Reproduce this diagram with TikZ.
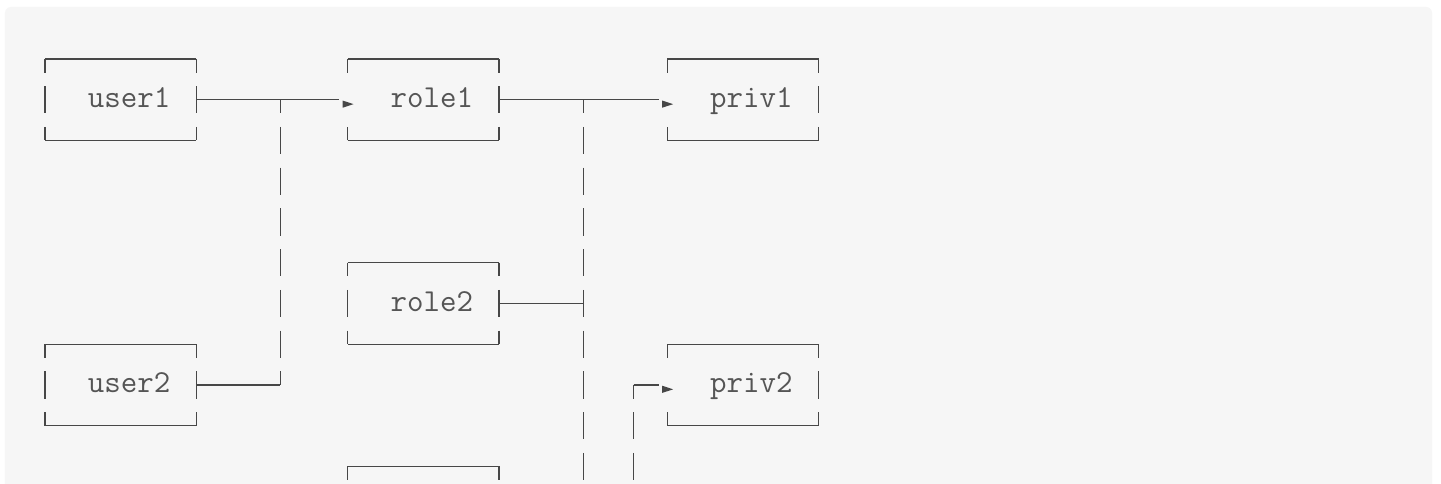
\documentclass[tikz,border=0pt]{standalone}
\usetikzlibrary{calc}
\definecolor{panel}{HTML}{F6F6F6}
\definecolor{ink}{HTML}{474747}
\definecolor{letter}{HTML}{555555}
\tikzset{
  wire/.style={draw=ink, line width=1.35pt},
  vwire/.style={wire, dash pattern=on 27.2pt off 13.54pt, dash phase=13.6pt},
  cellbox/.style={minimum width=151.38pt, minimum height=81.48pt, inner sep=0pt, outer sep=0pt},
  lbl/.style={anchor=base, inner sep=0pt, outer sep=0pt, text=letter, font=\fontsize{32pt}{38pt}\selectfont\ttfamily},
}
% box outline: solid top and bottom, broken right side
\newcommand{\drawcellframe}[1]{%
  \draw[wire] (#1.north west) -- (#1.north east);
  \draw[wire] (#1.south west) -- (#1.south east);
  \draw[vwire] (#1.north east) -- (#1.south east);}
% left side with a full middle bar
\newcommand{\drawcellleft}[1]{\draw[vwire] (#1.north west) -- (#1.south west);}
% left side with corner stubs only (an arrow sits in between)
\newcommand{\drawcellstubs}[1]{%
  \draw[wire] (#1.north west) -- ++(0pt,-13.6pt);
  \draw[wire] (#1.south west) -- ++(0pt,13.6pt);}
% small filled triangle entering a box from the left
\newcommand{\drawentrytip}[1]{%
  \fill[ink] ([shift={(-5.2pt,-0.8pt)}]#1.west) -- ([shift={(5.8pt,-4.4pt)}]#1.west)
    -- ([shift={(-5.2pt,-8pt)}]#1.west) -- cycle;}

\begin{document}
\begin{tikzpicture}[x=16.82pt, y=-40.74pt]
\useasboundingbox (-45pt,59pt) rectangle (1396pt,-425pt);
\fill[white] (-45pt,59pt) rectangle (1396pt,-425pt);
\clip (-45pt,59pt) rectangle (1396pt,-425pt);
\fill[panel, rounded corners=6pt] (-40pt,52pt) rectangle (1387pt,-445pt);

% boxes
\node[cellbox] (user1) at (4.5,1) {};
\node[cellbox] (role1) at (22.5,1) {};
\node[cellbox] (priv1) at (41.5,1) {};
\node[cellbox] (role2) at (22.5,6) {};
\node[cellbox] (user2) at (4.5,8) {};
\node[cellbox] (priv2) at (41.5,8) {};
\node[cellbox] (role3) at (22.5,11) {};

\foreach \b in {user1,role1,priv1,role2,user2,priv2,role3} {\drawcellframe{\b}}
\foreach \b in {user1,role2,user2,role3} {\drawcellleft{\b}}
\foreach \b in {role1,priv1,priv2} {\drawcellstubs{\b}}

% labels
\node[lbl] (tu1) at ([yshift=-7.8pt]5,1) {user1};
\node[lbl] (tr1) at ([yshift=-7.8pt]23,1) {role1};
\node[lbl] (tp1) at ([yshift=-7.8pt]42,1) {priv1};
\node[lbl] (tr2) at ([yshift=-7.8pt]23,6) {role2};
\node[lbl] (tu2) at ([yshift=-7.8pt]5,8) {user2};
\node[lbl] (tp2) at ([yshift=-7.8pt]42,8) {priv2};

% junction points
\coordinate (j1) at (14,1);
\coordinate (j2) at (14,8);
\coordinate (j3) at (32,1);
\coordinate (j4) at (32,6);
\coordinate (j5) at (35,8);
\coordinate (b1) at (32,11);
\coordinate (b2) at (35,11);

% connectors
\draw[wire] (user1.east) -- ([xshift=-8.41pt]role1.west);
\drawentrytip{role1}
\draw[wire] (user2.east) -- (j2);
\draw[vwire] (j1) -- (j2);
\draw[wire] (role1.east) -- ([xshift=-8.41pt]priv1.west);
\drawentrytip{priv1}
\draw[wire] (role2.east) -- (j4);
\draw[vwire] (j3) -- (b1);
\draw[wire] (j5) -- ([xshift=-8.41pt]priv2.west);
\drawentrytip{priv2}
\draw[vwire] (j5) -- (b2);
\end{tikzpicture}
\end{document}
